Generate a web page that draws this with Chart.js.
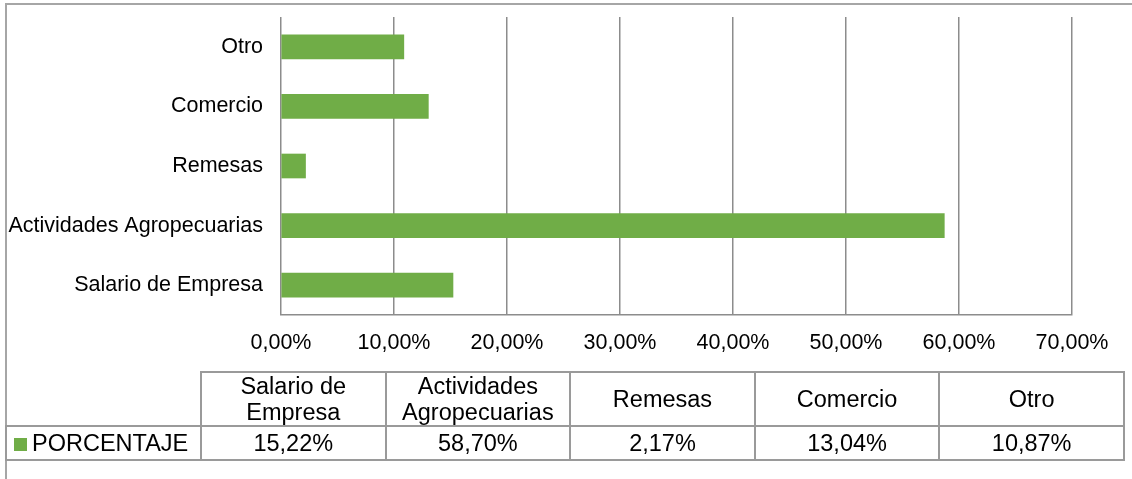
<!DOCTYPE html>
<html lang="es">
<head>
    <meta charset="UTF-8">
    <title>Ingresos</title>
    <script src="https://cdn.jsdelivr.net/npm/chart.js@4.4.8/dist/chart.umd.min.js"></script>
    <style>
        html, body { margin: 0; padding: 0; background: #fff; }
        body { width: 1132px; height: 479px; position: relative; overflow: hidden; font-family: "Liberation Sans", Arial, sans-serif; }
        #frame { position: absolute; left: 5px; top: 3px; width: 1140px; height: 500px; border-top: 2px solid #a6a6a6; border-left: 2px solid #a6a6a6; }
        #wrap { position: absolute; left: 0; top: 0; width: 1132px; height: 479px; }
        #dataTable { position: absolute; left: 5px; top: 371px; border-collapse: collapse; table-layout: fixed; }
        #dataTable td { border: 2px solid #9a9a9a; text-align: center; font-size: 23.5px; color: #000; padding: 0; line-height: 26px; }
        #dataTable tr.head td { height: 52px; }
        #dataTable tr.vals td { height: 32px; }
        #dataTable td.blank { border-top: none; border-left: none; }
        #dataTable td.serie { text-align: left; padding-left: 7px; white-space: nowrap; }
        .swatch { display: inline-block; width: 13px; height: 13px; background: #70AD47; margin-right: 5px; vertical-align: 0px; }
    </style>
</head>
<body>
<div id="frame"></div>
<div id="wrap"><canvas id="chart" width="1132" height="479"></canvas></div>
<table id="dataTable"></table>

<script>
    const categories = ['Salario de Empresa', 'Actividades Agropecuarias', 'Remesas', 'Comercio', 'Otro'];
    const tableHeaders = [['Salario de', 'Empresa'], ['Actividades', 'Agropecuarias'], ['Remesas'], ['Comercio'], ['Otro']];
    const porcentaje = [15.22, 58.70, 2.17, 13.04, 10.87];
    const seriesName = 'PORCENTAJE';
    const xTicks = [0, 10, 20, 30, 40, 50, 60, 70];

    const barColor = '#70AD47';
    const gridColor = '#8c8c8c';

    function fmt(v) {
        return v.toFixed(2).replace('.', ',') + '%';
    }

    // table under the chart
    const table = document.getElementById('dataTable');
    let head = '<colgroup><col style="width:195px">';
    categories.forEach(() => { head += '<col style="width:184.6px">'; });
    head += '</colgroup><tr class="head"><td class="blank"></td>';
    tableHeaders.forEach(h => { head += '<td>' + h.join('<br>') + '</td>'; });
    head += '</tr><tr class="vals"><td class="serie"><span class="swatch"></span>' + seriesName + '</td>';
    porcentaje.forEach(v => { head += '<td>' + fmt(v) + '</td>'; });
    head += '</tr>';
    table.innerHTML = head;

    const ctx = document.getElementById('chart').getContext('2d');
    const chart = new Chart(ctx, {
        type: 'bar',
        data: {
            labels: categories,
            datasets: [{
                label: seriesName,
                data: porcentaje,
                backgroundColor: barColor,
                borderWidth: 0,
                barThickness: 24
            }]
        },
        options: {
            indexAxis: 'y',
            responsive: false,
            animation: false,
            events: [],
            layout: { padding: { top: 17, right: 60, left: 0, bottom: 0 } },
            plugins: {
                legend: { display: false },
                tooltip: { enabled: false }
            },
            scales: {
                x: {
                    min: 0,
                    max: 70,
                    afterBuildTicks: (scale) => { scale.ticks = xTicks.map(v => ({ value: v })); },
                    afterFit: (scale) => { scale.height = 164; },
                    grid: { color: gridColor, lineWidth: 1.5, drawTicks: false },
                    border: { color: gridColor, width: 1.5 },
                    ticks: {
                        padding: 15,
                        color: '#000',
                        font: { family: 'Liberation Sans', size: 21.5 },
                        callback: (v) => fmt(v)
                    }
                },
                y: {
                    reverse: true,
                    afterFit: (scale) => {
                        scale.width = 281;
                        // labels sit between gridlines, no extra room needed above/below
                        scale.paddingTop = 0;
                        scale.paddingBottom = 0;
                    },
                    grid: { display: false, drawTicks: false },
                    border: { display: false },
                    ticks: {
                        padding: 18,
                        color: '#000',
                        font: { family: 'Liberation Sans', size: 21.5 }
                    }
                }
            }
        }
    });
</script>
</body>
</html>
